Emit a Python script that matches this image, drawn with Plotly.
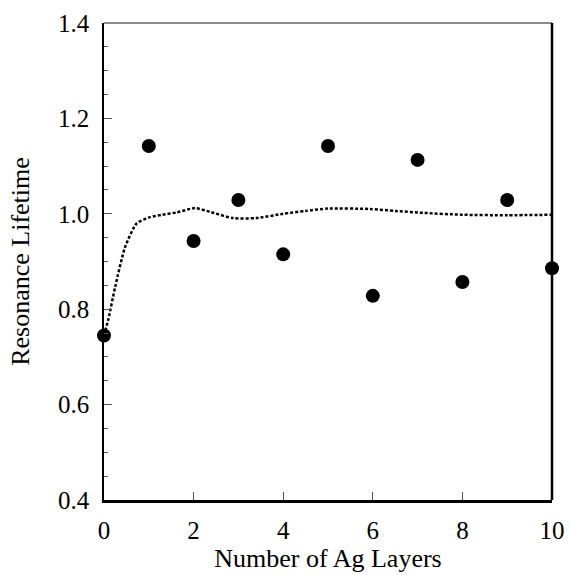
import plotly.graph_objects as go

layers = [0, 1, 2, 3, 4, 5, 6, 7, 8, 9, 10]
lifetime = [0.745, 1.142, 0.943, 1.029, 0.915, 1.142, 0.828, 1.113, 0.857, 1.029, 0.886]

curve_x = [0.0, 0.1, 0.25, 0.47, 0.73, 1.03, 1.3, 1.63, 2.03, 2.37, 2.88, 3.4, 4.0, 4.5, 5.0, 5.94, 6.5, 7.12, 8.0, 9.0, 10.0]
curve_y = [0.745, 0.78, 0.847, 0.93, 0.98, 0.993, 0.998, 1.003, 1.012, 1.004, 0.991, 0.991, 1.0, 1.006, 1.011, 1.010, 1.006, 1.002, 0.998, 0.997, 0.998]

x_ticks = [0, 2, 4, 6, 8, 10]
y_ticks = [0.4, 0.6, 0.8, 1.0, 1.2, 1.4]
y_labels = ["0.4", "0.6", "0.8", "1.0", "1.2", "1.4"]

fig = go.Figure()
fig.add_trace(go.Scatter(x=curve_x, y=curve_y, mode="lines",
                         line=dict(color="black", width=2.5, dash="3px,2px", shape="spline", smoothing=0.6),
                         showlegend=False, hoverinfo="skip"))
fig.add_trace(go.Scatter(x=layers, y=lifetime, mode="markers",
                         marker=dict(color="black", size=14),
                         showlegend=False, cliponaxis=False))

font = "Liberation Serif"
fig.update_layout(
    width=570, height=575,
    margin=dict(l=104, r=18, t=23, b=75),
    paper_bgcolor="white", plot_bgcolor="white",
    font=dict(family=font, color="black", size=25),
    xaxis=dict(range=[0, 10], tickvals=x_ticks, ticks="inside", ticklen=8, tickcolor="#555",
               showline=True, linecolor="black", linewidth=2.5, showgrid=False, zeroline=False,
               automargin=False,
               tickfont=dict(size=25, family=font), ticklabelstandoff=6,
               title=dict(text="Number of Ag Layers", font=dict(size=26, family=font), standoff=7)),
    yaxis=dict(range=[0.4, 1.4], tickvals=y_ticks, ticktext=y_labels, ticks="inside", ticklen=8,
               tickcolor="#555", showline=True, linecolor="black", linewidth=1.5,
               showgrid=False, zeroline=False, automargin=False,
               tickfont=dict(size=25, family=font), ticklabelstandoff=8,
               minor=dict(dtick=0.05, tick0=0.4, ticks="inside", ticklen=4, tickcolor="#555"),
               title=dict(text="Resonance Lifetime", font=dict(size=26, family=font), standoff=21)),
    shapes=[
        dict(type="line", xref="paper", yref="paper", x0=0, x1=1, y0=1, y1=1,
             line=dict(color="#666", width=1.5)),
        dict(type="line", xref="paper", yref="paper", x0=1, x1=1, y0=0, y1=1,
             line=dict(color="black", width=2.5)),
    ],
)

fig.write_html("out.html", config={"displayModeBar": False},
               post_script="document.body.style.margin='0';document.body.style.overflow='hidden';")
